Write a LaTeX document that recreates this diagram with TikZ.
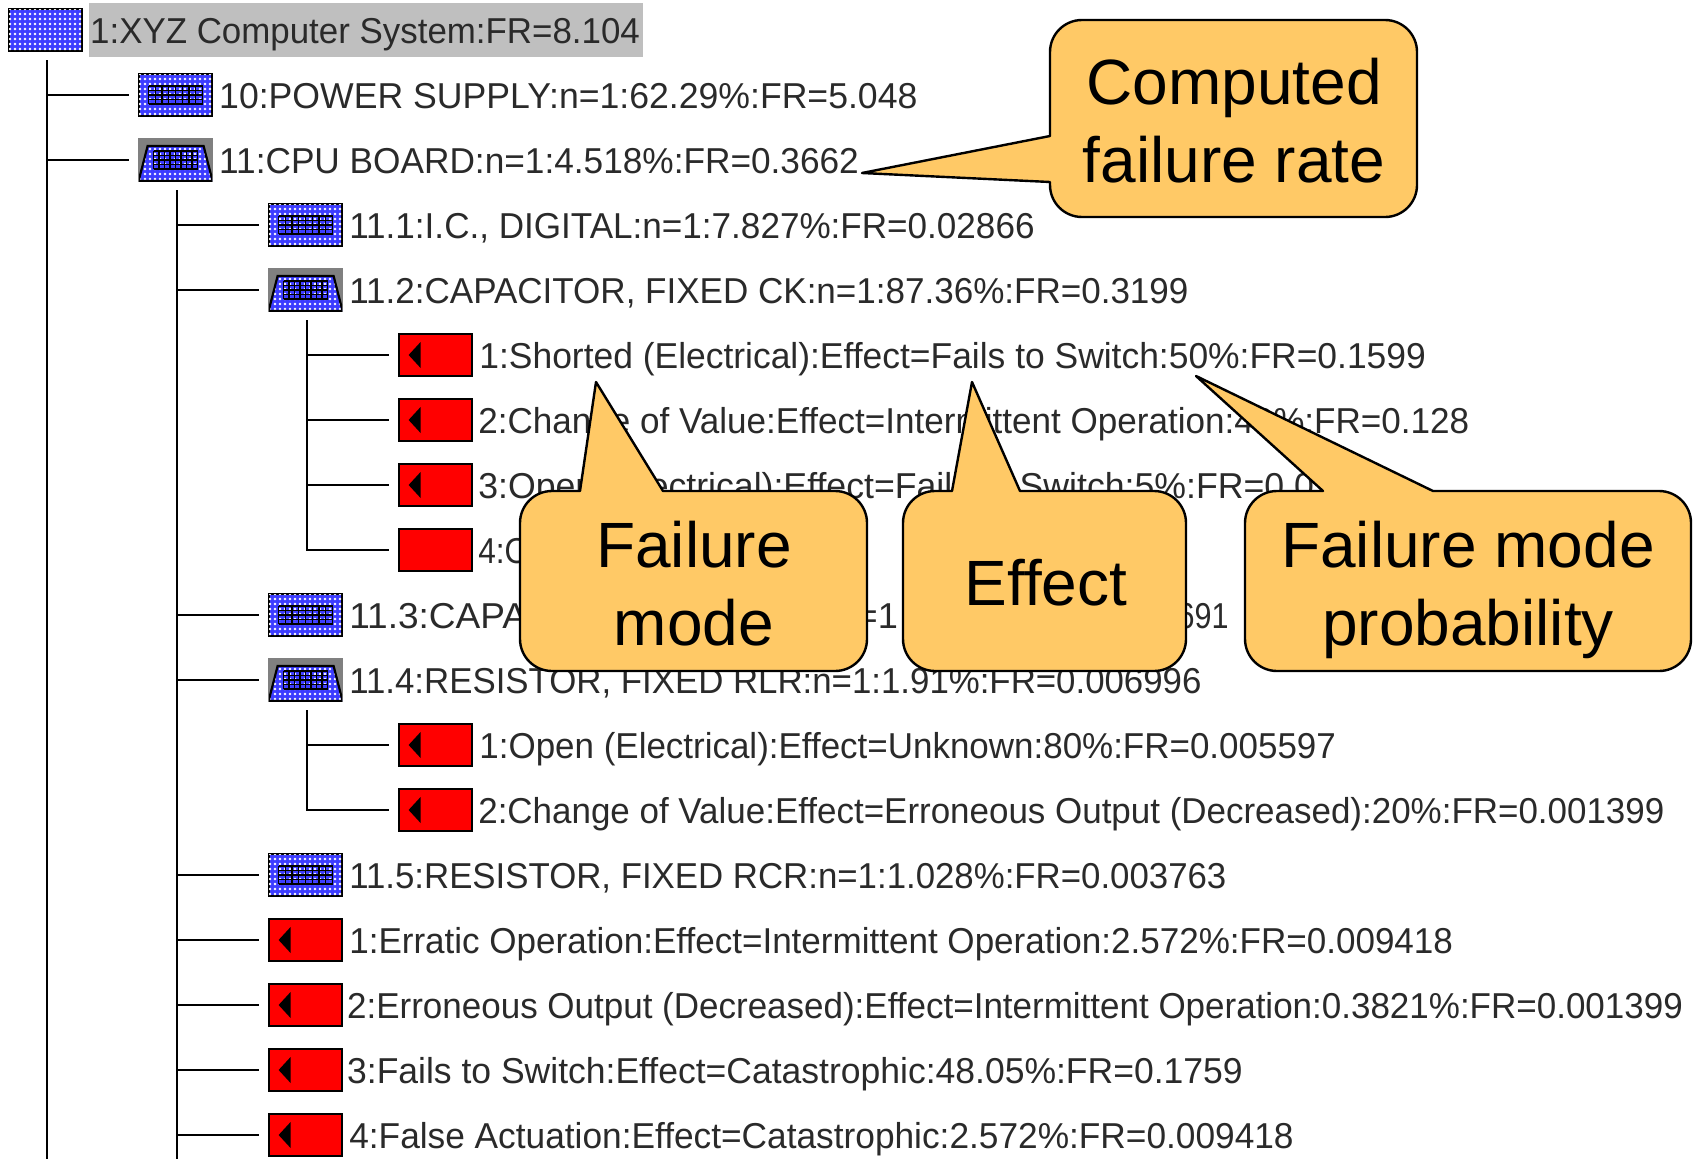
\documentclass[tikz,border=0pt]{standalone}
\usepackage{fontspec}
\usepackage{graphicx}
\setmainfont{Liberation Sans}
\usetikzlibrary{patterns.meta}
\definecolor{calloutfill}{HTML}{FFC966}
\definecolor{iconblue}{HTML}{3C3CFF}
\definecolor{icongray}{HTML}{808080}
\definecolor{treetext}{HTML}{2A2A2A}
\newsavebox\rowbox
% text fitted to a width measured on the reference
\newcommand{\fitted}[2]{\sbox\rowbox{#2}\pgfmathsetmacro\rowratio{#1/\wd\rowbox}\scalebox{\rowratio}[1]{\usebox\rowbox}}
% name, row, x left, x right (in the 1568 wide view), text
\newcommand{\treerow}[5]{%
  \pgfmathsetmacro\rx{#3*1.08418}\pgfmathsetmacro\rw{(#4-#3)*1.08418}\pgfmathsetmacro\ry{43+65*#2}%
  \node[rowtext] (#1) at (\rx,\ry) {\fitted{\rw}{#5}};}
% name, style, x left, row
\newcommand{\treeicon}[4]{%
  \pgfmathsetmacro\iy{30+65*#4}%
  \node[#2] (#1) at (#3,\iy) {};}
\tikzset{
  x=1pt,y=-1pt,
  rowtext/.style={anchor=base west,inner sep=0pt,text=treetext,font=\fontsize{36}{40}\selectfont},
  iconbase/.style={anchor=west,minimum width=73pt,minimum height=42pt,inner sep=0pt,draw=black,line width=2.2pt},
  dotted fill/.style={fill=iconblue,postaction={pattern={Dots[distance=5pt,radius=1.4pt]},pattern color=white}},
  rooticon/.style={iconbase,dotted fill},
  chipicon/.style={iconbase,dotted fill,postaction={path picture={
     \foreach \gy in {-9,-4.5,0,4.5,9}{\draw[black,line width=1.4pt] ([xshift=-27pt,yshift=\gy pt]path picture bounding box.center) -- ([xshift=27pt,yshift=\gy pt]path picture bounding box.center);}
     \foreach \gx in {-27,-20,-13.5,-7,0,7,13.5,20,27}{\draw[black,line width=1.4pt] ([xshift=\gx pt,yshift=-9pt]path picture bounding box.center) -- ([xshift=\gx pt,yshift=9pt]path picture bounding box.center);}
  }}},
  openicon/.style={iconbase,fill=icongray,draw=icongray,postaction={path picture={
     \fill[iconblue,postaction={pattern={Dots[distance=5pt,radius=1.4pt]},pattern color=white}] ([xshift=-28pt,yshift=14pt]path picture bounding box.center) -- ([xshift=28pt,yshift=14pt]path picture bounding box.center) -- ([xshift=37pt,yshift=-21pt]path picture bounding box.center) -- ([xshift=-37pt,yshift=-21pt]path picture bounding box.center) -- cycle;
     \draw[black,line width=2.2pt] ([xshift=-37pt,yshift=-21pt]path picture bounding box.center) -- ([xshift=-28pt,yshift=14pt]path picture bounding box.center) -- ([xshift=28pt,yshift=14pt]path picture bounding box.center) -- ([xshift=37pt,yshift=-21pt]path picture bounding box.center) -- cycle;
     \foreach \gy in {-9,-4.5,0,4.5,9}{\draw[black,line width=1.4pt] ([xshift=-22pt,yshift=\gy pt]path picture bounding box.center) -- ([xshift=22pt,yshift=\gy pt]path picture bounding box.center);}
     \foreach \gx in {-22,-16.5,-11,-5.5,0,5.5,11,16.5,22}{\draw[black,line width=1.4pt] ([xshift=\gx pt,yshift=-9pt]path picture bounding box.center) -- ([xshift=\gx pt,yshift=9pt]path picture bounding box.center);}
  }}},
  redicon/.style={iconbase,fill=red},
  modeicon/.style={iconbase,fill=red,postaction={path picture={
     \fill[black] ([xshift=-27pt,yshift=0pt]path picture bounding box.center) -- ([xshift=-15pt,yshift=-13pt]path picture bounding box.center) -- ([xshift=-15pt,yshift=13pt]path picture bounding box.center) -- cycle;
  }}},
  wire/.style={draw=black,line width=2.6pt},
  calloutshape/.style={draw=black,fill=calloutfill,line width=2.4pt,line join=round},
  callouttext/.style={inner sep=0pt,align=center,text=black,font=\fontsize{64}{78}\selectfont},
}
\begin{document}
\begin{tikzpicture}
\useasboundingbox (0,0) rectangle (1700,1159);
\fill[white] (0,0) rectangle (1700,1159);
\node[anchor=west,fill=black!25,inner sep=0pt,minimum width=554pt,minimum height=54pt] (rootbg) at (89,30) {};
% icons
\treeicon{i0}{rooticon}{8}{0}
\treeicon{i1}{chipicon}{138}{1}
\treeicon{i2}{openicon}{138}{2}
\treeicon{i3}{chipicon}{268}{3}
\treeicon{i4}{openicon}{268}{4}
\treeicon{i5}{modeicon}{398}{5}
\treeicon{i6}{modeicon}{398}{6}
\treeicon{i7}{modeicon}{398}{7}
\treeicon{i8}{redicon}{398}{8}
\treeicon{i9}{chipicon}{268}{9}
\treeicon{i10}{openicon}{268}{10}
\treeicon{i11}{modeicon}{398}{11}
\treeicon{i12}{modeicon}{398}{12}
\treeicon{i13}{chipicon}{268}{13}
\treeicon{i14}{modeicon}{268}{14}
\treeicon{i15}{modeicon}{268}{15}
\treeicon{i16}{modeicon}{268}{16}
\treeicon{i17}{modeicon}{268}{17}
% trunks
\coordinate (ta) at (47,60);
\coordinate (tab) at (47,1159);
\coordinate (tb) at (177,190);
\coordinate (tbb) at (177,1159);
\coordinate (tc) at (307,320);
\coordinate (tcb) at (307,551);
\coordinate (td) at (307,710);
\coordinate (tdb) at (307,811);
\draw[wire] (ta) -- (tab);
\draw[wire] (tb) -- (tbb);
\draw[wire] (tc) -- (tcb);
\draw[wire] (td) -- (tdb);
\foreach \n in {1,2}{\draw[wire] (ta |- i\n.west) -- ([xshift=-9pt]i\n.west);}
\foreach \n in {3,4,9,10,13,14,15,16,17}{\draw[wire] (tb |- i\n.west) -- ([xshift=-9pt]i\n.west);}
\foreach \n in {5,6,7,8}{\draw[wire] (tc |- i\n.west) -- ([xshift=-9pt]i\n.west);}
\foreach \n in {11,12}{\draw[wire] (td |- i\n.west) -- ([xshift=-9pt]i\n.west);}
% tree text
\treerow{r0}{0}{83}{590}{1:XYZ Computer System:FR=8.104}
\treerow{r1}{1}{202}{846}{10:POWER SUPPLY:n=1:62.29\%:FR=5.048}
\treerow{r2}{2}{202}{792}{11:CPU BOARD:n=1:4.518\%:FR=0.3662}
\treerow{r3}{3}{322}{954}{11.1:I.C., DIGITAL:n=1:7.827\%:FR=0.02866}
\treerow{r4}{4}{322}{1096}{11.2:CAPACITOR, FIXED CK:n=1:87.36\%:FR=0.3199}
\treerow{r5}{5}{442}{1315}{1:Shorted (Electrical):Effect=Fails to Switch:50\%:FR=0.1599}
\treerow{r6}{6}{441}{1355}{2:Change of Value:Effect=Intermittent Operation:40\%:FR=0.128}
\treerow{r7}{7}{441}{1285}{3:Open (Electrical):Effect=Fails to Switch:5\%:FR=0.01599}
\treerow{r8}{8}{441}{488}{4:O}
\treerow{r9a}{9}{322}{486}{11.3:CAPA}
\treerow{r9b}{9}{790}{828}{=1}
\treerow{r9c}{9}{1086}{1133}{691}
\treerow{r10}{10}{322}{1108}{11.4:RESISTOR, FIXED RLR:n=1:1.91\%:FR=0.006996}
\treerow{r11}{11}{442}{1232}{1:Open (Electrical):Effect=Unknown:80\%:FR=0.005597}
\treerow{r12}{12}{441}{1535}{2:Change of Value:Effect=Erroneous Output (Decreased):20\%:FR=0.001399}
\treerow{r13}{13}{322}{1131}{11.5:RESISTOR, FIXED RCR:n=1:1.028\%:FR=0.003763}
\treerow{r14}{14}{322}{1340}{1:Erratic Operation:Effect=Intermittent Operation:2.572\%:FR=0.009418}
\treerow{r15}{15}{320}{1552}{2:Erroneous Output (Decreased):Effect=Intermittent Operation:0.3821\%:FR=0.001399}
\treerow{r16}{16}{320}{1146}{3:Fails to Switch:Effect=Catastrophic:48.05\%:FR=0.1759}
\treerow{r17}{17}{322}{1193}{4:False Actuation:Effect=Catastrophic:2.572\%:FR=0.009418}
% callouts
\draw[calloutshape,rounded corners=32pt] (1200,20) -- (1417,20) -- (1417,217) -- (1050,217) [sharp corners] -- (1050,182) -- (862,173) -- (1050,136) [rounded corners=32pt] -- (1050,20) -- cycle;
\node[callouttext] (c1) at (1234,121) {Computed\\failure rate};
\draw[calloutshape,rounded corners=32pt] (700,491) -- (867,491) -- (867,671) -- (520,671) -- (520,491) [sharp corners] -- (580,491) -- (596,382) -- (663,491) -- cycle;
\node[callouttext] (c2) at (694,584) {Failure\\mode};
\draw[calloutshape,rounded corners=32pt] (1100,491) -- (1186,491) -- (1186,671) -- (903,671) -- (903,491) [sharp corners] -- (952,491) -- (972,382) -- (1020,491) -- cycle;
\node[callouttext] (c3) at (1046,583) {Effect};
\draw[calloutshape,rounded corners=32pt] (1500,491) -- (1691,491) -- (1691,671) -- (1245,671) -- (1245,491) [sharp corners] -- (1323,491) -- (1196,376) -- (1433,491) -- cycle;
\node[callouttext] (c4) at (1468,590) {Failure mode\\probability};
\end{tikzpicture}
\end{document}
